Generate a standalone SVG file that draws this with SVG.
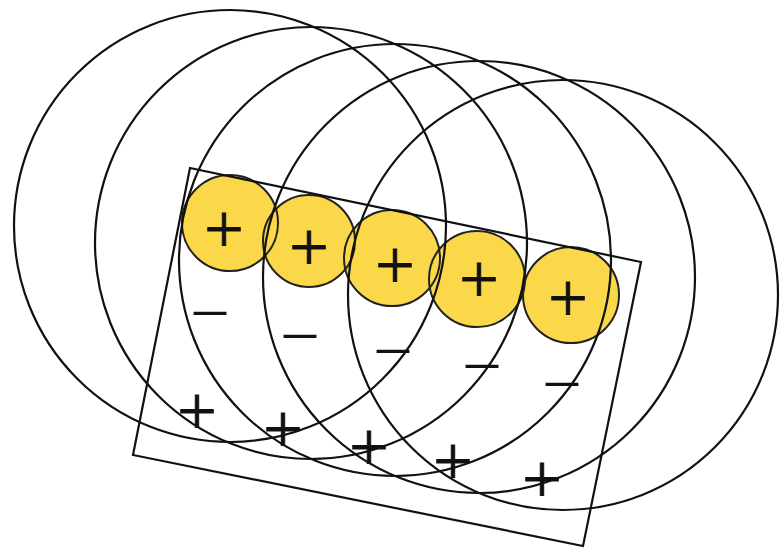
<svg xmlns="http://www.w3.org/2000/svg" width="780" height="550" viewBox="0 0 780 550">
  <style>
    .ring { fill: none; stroke: #111; stroke-width: 2.2; }
    .yfill { fill: #FBD84A; stroke: none; }
    .yline { fill: none; stroke: #222; stroke-width: 2; }
    .plate { fill: none; stroke: #111; stroke-width: 2.2; }
    .sign { font-family: "Liberation Serif", "Times New Roman", serif; fill: #111; text-anchor: middle; }
    .plus { font-size: 70px; stroke: #111; stroke-width: 0.9; }
    .minus { font-size: 64px; }
  </style>
  <rect width="780" height="550" fill="#fff"/>
  <g id="charges-fill">
    <circle class="yfill" cx="230" cy="223" r="48"/>
    <circle class="yfill" cx="309" cy="241" r="46"/>
    <circle class="yfill" cx="392" cy="258" r="48"/>
    <circle class="yfill" cx="477" cy="279" r="48"/>
    <circle class="yfill" cx="571" cy="295" r="48"/>
  </g>
  <g id="charges-outline">
    <circle class="yline" cx="230" cy="223" r="48"/>
    <circle class="yline" cx="309" cy="241" r="46"/>
    <circle class="yline" cx="392" cy="258" r="48"/>
    <circle class="yline" cx="477" cy="279" r="48"/>
    <circle class="yline" cx="571" cy="295" r="48"/>
  </g>
  <g id="rings">
    <circle class="ring" cx="230" cy="226" r="216"/>
    <circle class="ring" cx="311" cy="243" r="216"/>
    <circle class="ring" cx="395" cy="260" r="216"/>
    <circle class="ring" cx="479" cy="277" r="216"/>
    <circle class="ring" cx="563" cy="295" r="215"/>
  </g>
  <g id="plate">
    <polygon class="plate" points="190,168 641,262 583,546 133,455"/>
  </g>
  <g id="signs">
    <text class="sign plus" x="224" y="253">+</text>
    <text class="sign plus" x="309" y="271">+</text>
    <text class="sign plus" x="395" y="289">+</text>
    <text class="sign plus" x="479" y="303">+</text>
    <text class="sign plus" x="568" y="322">+</text>
    <text class="sign minus" x="210" y="328">–</text>
    <text class="sign minus" x="300" y="351">–</text>
    <text class="sign minus" x="393" y="366">–</text>
    <text class="sign minus" x="482" y="381">–</text>
    <text class="sign minus" x="562" y="399">–</text>
    <text class="sign plus" x="197" y="435">+</text>
    <text class="sign plus" x="283" y="453">+</text>
    <text class="sign plus" x="369" y="471">+</text>
    <text class="sign plus" x="453" y="485">+</text>
    <text class="sign plus" x="542" y="503">+</text>
  </g>
</svg>
